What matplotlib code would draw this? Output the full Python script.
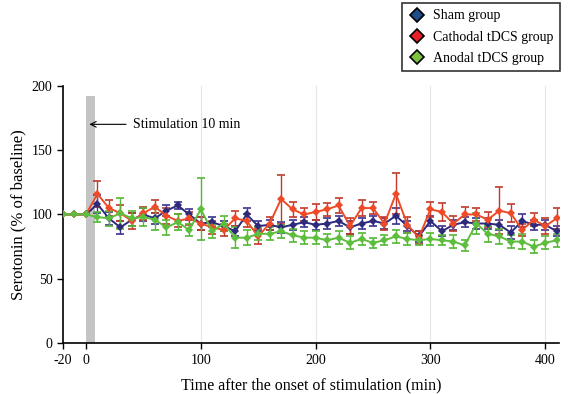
import matplotlib
matplotlib.use("Agg")
import matplotlib.pyplot as plt
from matplotlib.lines import Line2D
import numpy as np

plt.rcParams['font.family'] = ['Liberation Serif', 'DejaVu Serif']
plt.rcParams['axes.unicode_minus'] = False

# time points (min); baseline at -20, -10, 0
times = [-20, -10, 0] + list(range(10, 420, 10))
baseline = [100, 100, 100]

sham = baseline + [108, 97, 90, 96, 100, 97, 103, 107, 100, 93,
                   94, 91, 87, 100, 91, 92, 90, 92, 94, 92,
                   93, 95, 90, 93, 95, 93, 99, 91, 83, 95,
                   87, 92, 94, 93, 93, 92, 86, 95, 92, 92, 87]
sham_err = [0, 0, 0] + [7, 5, 5, 5, 5, 4, 4, 3, 4, 5,
                        4, 4, 4, 5, 4, 4, 4, 4, 4, 4,
                        4, 4, 5, 4, 4, 4, 6, 4, 4, 4,
                        4, 4, 4, 4, 4, 4, 5, 5, 4, 4, 4]

cathodal = baseline + [116, 105, 101, 95, 101, 106, 99, 95, 97, 93,
                       90, 88, 97, 95, 83, 93, 112, 104, 100, 102,
                       104, 107, 91, 105, 105, 93, 116, 92, 82, 104,
                       102, 93, 100, 100, 96, 103, 101, 88, 96, 91, 97]
cathodal_err = [0, 0, 0] + [10, 6, 6, 6, 5, 5, 6, 5, 5, 5,
                            5, 5, 6, 5, 6, 5, 19, 6, 5, 6,
                            5, 6, 6, 6, 5, 5, 16, 6, 5, 6,
                            7, 6, 6, 5, 6, 18, 7, 5, 5, 6, 8]

anodal = baseline + [98, 97, 101, 97, 98, 96, 90, 94, 88, 104,
                     87, 93, 82, 82, 85, 85, 87, 84, 82, 82,
                     80, 82, 78, 81, 78, 80, 83, 81, 80, 81,
                     80, 79, 76, 93, 85, 83, 79, 79, 75, 78, 80]
anodal_err = [0, 0, 0] + [4, 6, 12, 6, 7, 8, 6, 6, 5, 24,
                          5, 6, 8, 6, 5, 5, 5, 5, 5, 5,
                          5, 5, 5, 5, 4, 4, 5, 5, 4, 5,
                          4, 5, 4, 8, 6, 6, 5, 6, 5, 5, 5]

labels = ['Sham group', 'Cathodal tDCS group', 'Anodal tDCS group']
line_colors = ['#2d2a7c', '#ee4a28', '#5dbd3c']
err_colors = ['#3b3290', '#c0392a', '#55b835']
legend_colors = ['#1f4f8a', '#e8202a', '#7cc242']

stim_start, stim_len, stim_top = 0, 8, 192
stim_text_y = 170

fig = plt.figure(figsize=(5.7, 3.94), dpi=100)
ax = fig.add_axes([0.1105, 0.1287, 0.8702, 0.6538])

ax.bar(stim_start, stim_top, width=stim_len, align='edge', color='#c4c4c4', zorder=1)

for vals, errs, lc, ec in zip([sham, cathodal, anodal],
                              [sham_err, cathodal_err, anodal_err],
                              line_colors, err_colors):
    errs = np.array(errs)
    ax.errorbar(times, vals, yerr=errs, fmt='none', ecolor=ec,
                elinewidth=1.0, capsize=3, capthick=1.2, zorder=2)
    ax.plot(times, vals, color=lc, lw=1.4, marker='D', markersize=4.5,
            markeredgewidth=0, zorder=3)

ax.annotate('Stimulation 10 min', xy=(stim_start + 3, stim_text_y),
            xytext=(41, stim_text_y), ha='left', va='center', fontsize=10,
            arrowprops=dict(arrowstyle='->', color='black', lw=0.8,
                            shrinkA=3, shrinkB=0))

ax.set_xlim(-20, 412)
ax.set_ylim(0, 200)
ax.set_xticks([-20, 0, 100, 200, 300, 400])
ax.set_yticks([0, 50, 100, 150, 200])
ax.tick_params(labelsize=10, width=1, length=4, direction='out')
for x in [100, 200, 300, 400]:
    ax.axvline(x, color='#e6e6e6', lw=0.8, zorder=0)
ax.spines['top'].set_visible(False)
ax.spines['right'].set_visible(False)
ax.spines['left'].set_linewidth(1.2)
ax.spines['bottom'].set_linewidth(1.2)
ax.set_xlabel('Time after the onset of stimulation (min)', fontsize=11.5, labelpad=8)
ax.set_ylabel('Serotonin (% of baseline)', fontsize=12, labelpad=4)

handles = [Line2D([], [], ls='none', marker='D', markersize=7, markerfacecolor=c,
                  markeredgecolor='black', markeredgewidth=1.2) for c in legend_colors]
leg = fig.legend(handles, labels, loc='upper right', bbox_to_anchor=(0.982, 0.992),
                 fontsize=10, frameon=True, fancybox=False, borderaxespad=0,
                 labelspacing=0.6, handletextpad=0.5, borderpad=0.45, handlelength=1.3)
leg.get_frame().set_edgecolor('black')
leg.get_frame().set_linewidth(1.2)

fig.savefig('out.png', dpi=100)
